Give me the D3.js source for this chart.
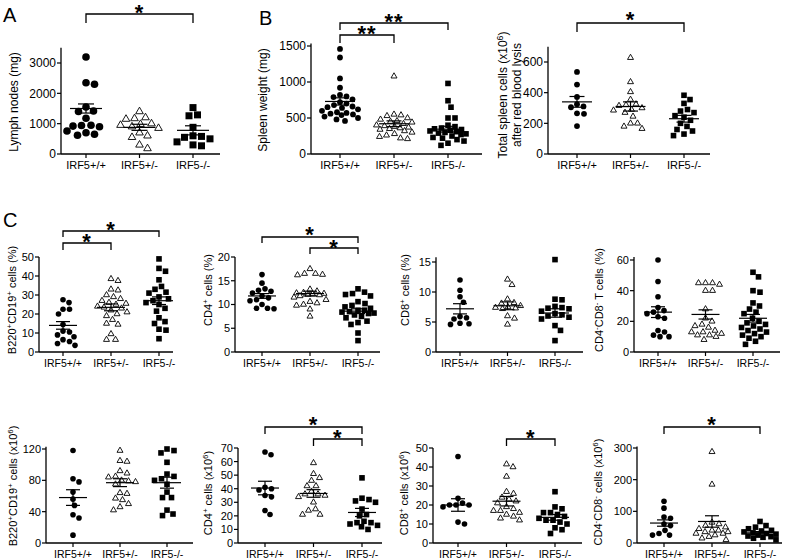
<!DOCTYPE html>
<html lang="en">
<head>
<meta charset="UTF-8">
<title>IRF5 lymphoid phenotype</title>
<script src="https://d3js.org/d3.v7.min.js"></script>
<style>
  body { margin: 0; background: #fff; }
  svg { font-family: Arial, "Liberation Sans", sans-serif; }
</style>
</head>
<body>
<svg id="fig" width="787" height="560"></svg>
<script>
// genotype groups
const groups = ["IRF5+/+", "IRF5+/-", "IRF5-/-"];

// A - lymph nodes (mg)
const lymphNodes = [
  [3200, 2350, 2300, 1550, 1420, 1400, 1180, 950, 940, 920, 900, 760, 700, 650, 620],
  [1400, 1200, 1170, 1150, 1000, 980, 950, 900, 850, 700, 600, 550, 300, 180],
  [1530, 1290, 1260, 880, 600, 580, 550, 500, 400, 300, 270]
];
const lymphNodesMean = [1500, 880, 780];
const lymphNodesSem = [150, 100, 150];

// B - spleen weight (mg)
const spleenWeight = [
  [1460, 1340, 1050, 920, 820, 800, 790, 760, 720, 700, 680, 660, 650, 640, 620, 600, 580, 570, 560, 550, 540, 520, 500, 480, 460],
  [1080, 550, 540, 530, 500, 480, 460, 450, 440, 420, 400, 390, 380, 370, 360, 350, 340, 320, 300, 280, 260, 240, 220, 210],
  [980, 740, 650, 500, 500, 400, 380, 360, 350, 340, 330, 320, 310, 300, 290, 280, 270, 250, 230, 220, 200, 180, 150, 120]
];
const spleenWeightMean = [730, 420, 345];
const spleenWeightSem = [50, 40, 40];

// B - total spleen cells after lysis (x10^6)
const spleenCells = [
  [535, 453, 372, 325, 310, 305, 265, 262, 182],
  [628, 470, 405, 355, 325, 320, 315, 300, 290, 285, 270, 245, 200, 200, 180, 165],
  [383, 355, 330, 290, 280, 270, 250, 240, 220, 200, 180, 160, 150, 130, 120]
];
const spleenCellsMean = [340, 310, 230];
const spleenCellsSem = [35, 30, 22];

// C - B220+CD19+ (%)
const bPct = [
  [27.5, 26, 22.5, 22.5, 20, 14.5, 11, 10.5, 9, 8, 6.5, 5.5, 4.5, 3.5],
  [38.5, 37.5, 33, 32.5, 30, 29, 28, 27, 26, 25.5, 25, 24, 23.5, 23, 22, 21, 20, 19, 17, 15, 14.5, 9.5, 6.5, 6.5],
  [49, 44, 42.5, 38, 34.5, 33, 31.5, 31, 29, 28, 27, 26, 25, 23, 21.5, 18, 16, 15, 12, 11.5, 7]
];
const bPctMean = [14, 23.5, 27];
const bPctSem = [2, 1.8, 2];

// C - CD4+ (%)
const cd4Pct = [
  [16.3, 14.5, 13.3, 13, 12.8, 12.4, 11.8, 11.4, 11, 10.8, 10, 9.2, 9.2, 9.1],
  [17.5, 16.5, 16.5, 16.3, 16.2, 13.2, 12.8, 12.5, 12.4, 12.3, 12.2, 12.1, 12, 11.8, 11.5, 11, 10.6, 10.3, 10, 9.8, 9, 7.5],
  [13.3, 12.6, 12.3, 12.1, 11.8, 10.6, 10.2, 9.8, 9.5, 9.2, 8.8, 8.8, 8.5, 8.4, 8.2, 8.1, 7.8, 7.5, 7.2, 6.5, 6.2, 5.8, 4, 2.4]
];
const cd4PctMean = [11.8, 12.3, 8.6];
const cd4PctSem = [0.5, 0.5, 0.5];

// C - CD8+ (%)
const cd8Pct = [
  [12, 10.3, 9.2, 8.3, 5.9, 5.7, 5.5, 4.8, 4.7, 4.6],
  [12.1, 11.2, 8.8, 8.2, 8.1, 7.7, 7.5, 7.4, 7.3, 7.2, 6, 5.6, 4.6],
  [15.4, 8.8, 8.7, 7.6, 7.4, 7.3, 7.2, 6.8, 6.4, 6.2, 6, 5.8, 5.5, 4.4, 3.6, 1.9]
];
const cd8PctMean = [7.2, 7.7, 6.5];
const cd8PctSem = [0.85, 0.65, 0.7];

// C - CD4-CD8- T cells (%)
const dnPct = [
  [60, 46, 36, 29, 27, 26, 25, 23, 22, 14, 13, 11, 10, 10],
  [45, 45, 45, 44, 40, 40, 28, 22, 20, 18, 17, 16, 14, 13, 13, 12, 11, 11, 10, 8],
  [52, 49, 40, 39, 32, 30, 28, 26, 25, 22, 20, 19, 18, 17, 16, 15, 14, 13, 12, 11, 10, 9, 7, 5]
];
const dnPctMean = [26, 24.5, 22];
const dnPctSem = [3.5, 3, 2.5];

// C (row 2) - B220+CD19+ (x10^6)
const bNum = [
  [118, 82, 78, 65, 56, 48, 36, 32, 10],
  [118, 105, 104, 92, 89, 85, 84, 80, 79, 78, 75, 64, 63, 57, 55, 50, 46, 42],
  [120, 118, 115, 103, 88, 85, 82, 80, 75, 65, 58, 58, 42, 37, 35]
];
const bNumMean = [58, 77, 77];
const bNumSem = [10, 5, 7];

// CD4+ (x10^6)
const cd4Num = [
  [67, 65, 41, 40, 39, 35, 34, 24, 21],
  [59, 51, 48, 46, 42, 42, 38, 36, 36, 35, 34, 30, 25, 24, 21, 21],
  [48, 33, 32, 31, 30, 25, 21, 20, 16, 15, 15, 14, 13, 12, 10]
];
const cd4NumMean = [40.5, 36.5, 22.5];
const cd4NumSem = [5, 2.8, 3];

// CD8+ (x10^6)
const cd8Num = [
  [45.5, 23.5, 21, 20, 20, 20, 19, 11, 10],
  [41.5, 40, 35, 27, 26, 24, 23, 22, 21, 19, 18, 17, 17, 16, 15, 14, 13, 12],
  [27, 19, 18, 16, 16, 15, 14, 13, 12, 12, 11, 10, 8, 7, 5]
];
const cd8NumMean = [20, 22, 13.5];
const cd8NumSem = [3.3, 2.5, 1.5];

// CD4-CD8- (x10^6)
const dnNum = [
  [132, 110, 82, 78, 60, 55, 40, 30, 25, 25],
  [288, 185, 65, 60, 55, 50, 45, 40, 40, 35, 35, 30, 30, 25, 20, 15, 10],
  [68, 55, 50, 45, 40, 38, 35, 32, 30, 28, 25, 22, 20, 18, 15, 10]
];
const dnNumMean = [63, 68, 32];
const dnNumSem = [10, 18, 4];

// axis ticks
const lymphTicks = [0, 1000, 2000, 3000];
const spleenWeightTicks = [0, 500, 1000, 1500];
const spleenCellsTicks = [0, 200, 400, 600];
const bPctTicks = [0, 10, 20, 30, 40, 50];
const cd4PctTicks = [0, 5, 10, 15, 20];
const cd8PctTicks = [0, 5, 10, 15];
const dnPctTicks = [0, 20, 40, 60];
const bNumTicks = [0, 40, 80, 120];
const cd4NumTicks = [0, 10, 20, 30, 40, 50, 60, 70];
const cd8NumTicks = [0, 10, 20, 30, 40, 50];
const dnNumTicks = [0, 100, 200, 300];

// styles per panel size
const big = {tick: 12, cat: 11, title: 12, r: 3.8, sq: 7, tri: 7.6, meanW: 32, capW: 16, spread: 19};
const small = {tick: 11, cat: 10.5, title: 11, r: 2.8, sq: 5.6, tri: 6, meanW: 28, capW: 14, spread: 16};
const bmid = {tick: 12, cat: 11, title: 12, r: 2.9, sq: 5.6, tri: 6, meanW: 30, capW: 15, spread: 18};

const panels = [
  {vals: lymphNodes, mean: lymphNodesMean, sem: lymphNodesSem, ticks: lymphTicks, top: 3500,
   ax: 61, y0: 154, yt: 63, cx: [86, 193], xEnd: 220, st: big,
   title: ["Lymph nodes (mg)"], tx: 14, ty: 102,
   brackets: [{a: 0, b: 2, y: 14, drop: 9, star: "*", sy: 8.5}]},
  {vals: spleenWeight, mean: spleenWeightMean, sem: spleenWeightSem, ticks: spleenWeightTicks, top: 1535,
   ax: 311, y0: 154, yt: 46, cx: [340, 448], xEnd: 482, st: bmid,
   title: ["Spleen weight (mg)"], tx: 263, ty: 100,
   brackets: [{a: 0, b: 2, y: 23, drop: 7, star: "**", sy: 17}, {a: 0, b: 1, y: 35, drop: 8, star: "**", sy: 29}]},
  {vals: spleenCells, mean: spleenCellsMean, sem: spleenCellsSem, ticks: spleenCellsTicks, top: 700,
   ax: 548, y0: 154, yt: 62, cx: [577, 684], xEnd: 710, st: bmid,
   title: ["Total spleen cells (x10^6)", "after red blood lysis"], tx: 503, ty: 95,
   brackets: [{a: 0, b: 2, y: 23, drop: 9, star: "*", sy: 15}]},
  {vals: bPct, mean: bPctMean, sem: bPctSem, ticks: bPctTicks, top: 50,
   ax: 39, y0: 352, yt: 257, cx: [63, 159], xEnd: 173, st: small,
   title: ["B220^+CD19^+ cells (%)"], tx: 12, ty: 300,
   brackets: [{a: 0, b: 2, y: 231, drop: 6, star: "*", sy: 225}, {a: 0, b: 1, y: 243, drop: 7, star: "*", sy: 237}]},
  {vals: cd4Pct, mean: cd4PctMean, sem: cd4PctSem, ticks: cd4PctTicks, top: 20,
   ax: 235, y0: 352, yt: 257, cx: [262, 358], xEnd: 380, st: small,
   title: ["CD4^+ cells (%)"], tx: 208, ty: 290,
   brackets: [{a: 0, b: 2, y: 237, drop: 6, star: "*", sy: 230}, {a: 1, b: 2, y: 248, drop: 6, star: "*", sy: 243}]},
  {vals: cd8Pct, mean: cd8PctMean, sem: cd8PctSem, ticks: cd8PctTicks, top: 15.8,
   ax: 436, y0: 352, yt: 262, cx: [460, 555], xEnd: 583, st: small,
   title: ["CD8^+ cells (%)"], tx: 405, ty: 290, brackets: []},
  {vals: dnPct, mean: dnPctMean, sem: dnPctSem, ticks: dnPctTicks, top: 62,
   ax: 634, y0: 352, yt: 260, cx: [658, 753], xEnd: 780, st: small,
   title: ["CD4^-CD8^- T cells (%)"], tx: 599, ty: 300, brackets: []},
  {vals: bNum, mean: bNumMean, sem: bNumSem, ticks: bNumTicks, top: 123,
   ax: 46, y0: 543, yt: 449, cx: [73, 167], xEnd: 193, st: small,
   title: ["B220^+CD19^+ cells (x10^6)"], tx: 13, ty: 486, brackets: []},
  {vals: cd4Num, mean: cd4NumMean, sem: cd4NumSem, ticks: cd4NumTicks, top: 70,
   ax: 238, y0: 543, yt: 448, cx: [265, 362], xEnd: 382, st: small,
   title: ["CD4^+ cells (x10^6)"], tx: 208, ty: 493,
   brackets: [{a: 0, b: 2, y: 427, drop: 7, star: "*", sy: 420}, {a: 1, b: 2, y: 439, drop: 7, star: "*", sy: 433}]},
  {vals: cd8Num, mean: cd8NumMean, sem: cd8NumSem, ticks: cd8NumTicks, top: 50,
   ax: 433, y0: 543, yt: 448, cx: [458, 555], xEnd: 582, st: small,
   title: ["CD8^+ cells (x10^6)"], tx: 404, ty: 493,
   brackets: [{a: 1, b: 2, y: 439, drop: 7, star: "*", sy: 433}]},
  {vals: dnNum, mean: dnNumMean, sem: dnNumSem, ticks: dnNumTicks, top: 305,
   ax: 637, y0: 543, yt: 448, cx: [664, 760], xEnd: 782, st: small,
   title: ["CD4^-CD8^- cells (x10^6)"], tx: 598, ty: 492,
   brackets: [{a: 0, b: 2, y: 427, drop: 7, star: "*", sy: 420}]}
];

const panelLetters = [{t: "A", x: 3, y: 22}, {t: "B", x: 259, y: 25}, {t: "C", x: 3, y: 227}];

const svg = d3.select("#fig");

// column-scatter layout: push points sideways until they don't overlap,
// within a max spread; when crowded take the least-overlapping slot
function swarm(vals, y, cx, r, spread) {
  const pts = vals.map(v => ({v: v, py: y(v)})).sort((a, b) => a.py - b.py);
  const placed = [];
  const d = 2 * r + 0.8;
  pts.forEach(p => {
    let bestOff = 0, bestDist = -1;
    for (let k = 0; k <= spread * 4; k++) {
      const off = (k % 2 ? 1 : -1) * Math.ceil(k / 2) * 0.5;
      if (Math.abs(off) > spread) break;
      const dist = placed.length ? d3.min(placed, q => Math.hypot(q.px - (cx + off), q.py - p.py)) : Infinity;
      if (dist >= d) { bestOff = off; bestDist = dist; break; }
      if (dist > bestDist) { bestDist = dist; bestOff = off; }
    }
    p.px = cx + bestOff;
    placed.push(p);
  });
  return placed;
}

function addLabel(sel, str) {
  // "^x" -> superscript x
  const parts = str.split(/(\^.)/).filter(s => s.length);
  let sup = false;
  parts.forEach(s => {
    if (s[0] === "^") {
      sel.append("tspan").attr("dy", "-0.45em").attr("font-size", "0.72em").text(s[1]);
      sup = true;
    } else {
      sel.append("tspan").attr("dy", sup ? "0.32em" : null).text(s);
      sup = false;
    }
  });
}

panels.forEach(p => {
  const st = p.st;
  const y = d3.scaleLinear().domain([0, d3.max(p.ticks)]).range([p.y0, p.yt]);
  const x = d3.scalePoint().domain(groups).range(p.cx);
  const g = svg.append("g");

  // axes
  g.append("line").attr("x1", p.ax).attr("x2", p.ax).attr("y1", p.y0).attr("y2", y(p.top))
    .attr("stroke", "#000").attr("stroke-width", 1.3);
  g.append("line").attr("x1", p.ax).attr("x2", p.xEnd).attr("y1", p.y0).attr("y2", p.y0)
    .attr("stroke", "#000").attr("stroke-width", 1.3);
  g.selectAll(".yt").data(p.ticks).join("line")
    .attr("x1", p.ax - 4).attr("x2", p.ax).attr("y1", d => y(d)).attr("y2", d => y(d))
    .attr("stroke", "#000").attr("stroke-width", 1.2);
  g.selectAll(".yl").data(p.ticks).join("text")
    .attr("x", p.ax - 5).attr("y", d => y(d)).attr("dy", "0.36em")
    .attr("text-anchor", "end").attr("font-size", st.tick).text(d => d);
  g.selectAll(".xt").data(groups).join("line")
    .attr("x1", d => x(d)).attr("x2", d => x(d)).attr("y1", p.y0).attr("y2", p.y0 + 4)
    .attr("stroke", "#000").attr("stroke-width", 1.2);
  g.selectAll(".xl").data(groups).join("text")
    .attr("x", d => x(d)).attr("y", p.y0 + 15)
    .attr("text-anchor", "middle").attr("font-size", st.cat).text(d => d);

  // y title
  p.title.forEach((line, i) => {
    const t = g.append("text")
      .attr("transform", `translate(${p.tx + i * (st.title + 2)},${p.ty}) rotate(-90)`)
      .attr("dy", "0.35em").attr("text-anchor", "middle").attr("font-size", st.title);
    addLabel(t, line);
  });

  // points
  groups.forEach((grp, gi) => {
    const pts = swarm(p.vals[gi], y, x(grp), gi === 0 ? st.r : st.sq / 2 + 0.3, st.spread);
    if (gi === 0) {
      g.selectAll(null).data(pts).join("circle")
        .attr("cx", d => d.px).attr("cy", d => d.py).attr("r", st.r).attr("fill", "#000");
    } else if (gi === 1) {
      const tri = d3.symbol().type(d3.symbolTriangle).size(st.tri * st.tri * Math.sqrt(3) / 4);
      g.selectAll(null).data(pts).join("path")
        .attr("transform", d => `translate(${d.px},${d.py})`).attr("d", tri)
        .attr("fill", "#fff").attr("stroke", "#000").attr("stroke-width", 0.9);
    } else {
      g.selectAll(null).data(pts).join("rect")
        .attr("x", d => d.px - st.sq / 2).attr("y", d => d.py - st.sq / 2)
        .attr("width", st.sq).attr("height", st.sq).attr("fill", "#000");
    }

    // mean +/- sem
    const cx = x(grp), m = p.mean[gi], s = p.sem[gi];
    g.append("line").attr("x1", cx - st.meanW / 2).attr("x2", cx + st.meanW / 2)
      .attr("y1", y(m)).attr("y2", y(m)).attr("stroke", "#000").attr("stroke-width", 1.2);
    g.append("line").attr("x1", cx).attr("x2", cx).attr("y1", y(m - s)).attr("y2", y(m + s))
      .attr("stroke", "#000").attr("stroke-width", 1.2);
    [m - s, m + s].forEach(v => {
      g.append("line").attr("x1", cx - st.capW / 2).attr("x2", cx + st.capW / 2)
        .attr("y1", y(v)).attr("y2", y(v)).attr("stroke", "#000").attr("stroke-width", 1.2);
    });
  });

  // significance brackets
  p.brackets.forEach(b => {
    const xa = x(groups[b.a]), xb = x(groups[b.b]);
    g.append("path")
      .attr("d", `M${xa},${b.y + b.drop}V${b.y}H${xb}V${b.y + b.drop}`)
      .attr("fill", "none").attr("stroke", "#000").attr("stroke-width", 1.3);
    g.append("text").attr("x", (xa + xb) / 2).attr("y", b.sy + 11.5)
      .attr("text-anchor", "middle").attr("font-size", 22).attr("font-weight", "bold")
      .attr("letter-spacing", 1).text(b.star);
  });
});

svg.selectAll(".letter").data(panelLetters).join("text")
  .attr("x", d => d.x).attr("y", d => d.y).attr("font-size", 20).text(d => d.t);
</script>
</body>
</html>
